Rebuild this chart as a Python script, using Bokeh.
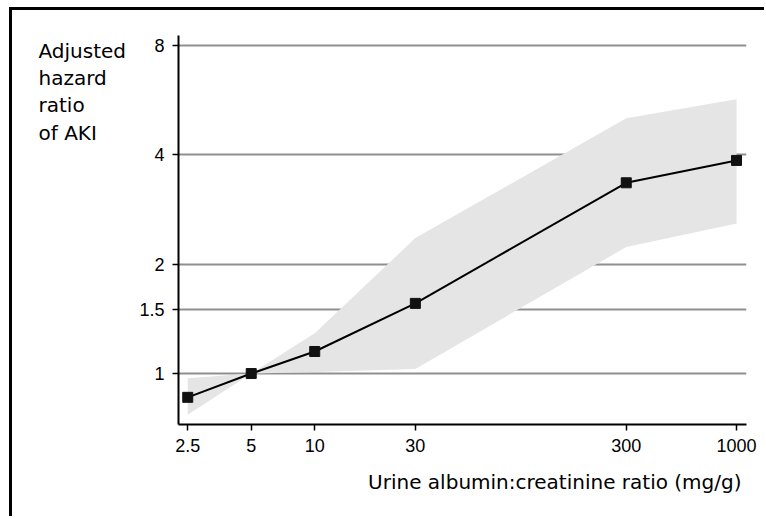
from bokeh.plotting import figure
from bokeh.layouts import row
from bokeh.models import FixedTicker, Title, Range1d
from bokeh.core.properties import value
from bokeh.embed import file_html
from bokeh.resources import INLINE

# Data
acr = [2.5, 5, 10, 30, 300, 1000]
hr = [0.86, 1.0, 1.15, 1.56, 3.35, 3.86]
hr_lower = [0.77, 1.0, 1.01, 1.03, 2.23, 2.59]
hr_upper = [0.97, 1.0, 1.29, 2.36, 5.04, 5.69]

x_ticks = [2.5, 5, 10, 30, 300, 1000]
x_tick_labels = ["2.5", "5", "10", "30", "300", "1000"]
y_ticks = [1, 1.5, 2, 4, 8]
y_tick_labels = ["1", "1.5", "2", "4", "8"]

y_title_lines = ["Adjusted", "hazard", "ratio", "of AKI"]
x_title = "Urine albumin:creatinine ratio (mg/g)"

TICK_FONT = "Liberation Sans"
TITLE_FONT = "DejaVu Sans"

H = 506
LEFT_W = 124

# --- left strip holding the multi-line y-axis title ---
# its frame is aligned by the row layout; ranges expressed in page pixels
pl = figure(width=LEFT_W, height=H, x_range=Range1d(12, 12 + LEFT_W), y_range=Range1d(431, 42),
            x_axis_type=None, y_axis_type=None,
            output_backend="svg", toolbar_location=None,
            min_border_left=0, min_border_right=0, min_border_top=0, min_border_bottom=0)
pl.outline_line_color = None
pl.grid.visible = False
pl.background_fill_color = "white"
pl.border_fill_color = "white"
pl.text(x=[38] * len(y_title_lines), y=[57, 84, 111, 139], text=y_title_lines,
        text_font=value(TITLE_FONT), text_font_size="20px", text_color="black",
        text_align="left", text_baseline="alphabetic")

# --- main chart ---
p = figure(width=752 - LEFT_W, height=H, x_axis_type="log", y_axis_type="log",
           x_range=(2.26, 1115), y_range=(0.724, 8.52),
           output_backend="svg", toolbar_location=None,
           min_border_left=166 - LEFT_W, min_border_right=18,
           min_border_top=25, min_border_bottom=92)
p.outline_line_color = None
p.background_fill_color = "white"
p.border_fill_color = "white"

p.varea(x=acr, y1=hr_lower, y2=hr_upper, fill_color="#e5e5e5")
p.line(acr, hr, line_color="black", line_width=2)
p.scatter(acr, hr, marker="square", size=10, fill_color="#111111", line_color="#111111")

p.xaxis.ticker = FixedTicker(ticks=x_ticks)
p.yaxis.ticker = FixedTicker(ticks=y_ticks)
p.xaxis.major_label_overrides = {t: s for t, s in zip(x_ticks, x_tick_labels)}
p.yaxis.major_label_overrides = {t: s for t, s in zip(y_ticks, y_tick_labels)}
for ax in (p.xaxis, p.yaxis):
    ax.minor_tick_line_color = None
    ax.major_tick_in = 0
    ax.major_tick_out = 6
    ax.major_tick_line_color = "black"
    ax.major_tick_line_width = 1.5
    ax.axis_line_color = "black"
    ax.axis_line_width = 2
    ax.major_label_text_font = TICK_FONT
    ax.major_label_text_font_size = "18px"
    ax.major_label_text_color = "black"
    ax.major_label_standoff = 8

p.xgrid.visible = False
p.ygrid.grid_line_color = "#8f8f8f"
p.ygrid.grid_line_width = 2

p.add_layout(Title(text=x_title, align="right", text_font=TITLE_FONT,
                   text_font_size="20px", text_font_style="normal",
                   text_color="black", standoff=26, offset=5), "below")

layout = row(pl, p)
layout.styles = {"margin-left": "9px", "margin-top": "7px",
                 "border-left": "3px solid black", "border-top": "3px solid black"}

open("out.html", "w").write(file_html(layout, INLINE))
